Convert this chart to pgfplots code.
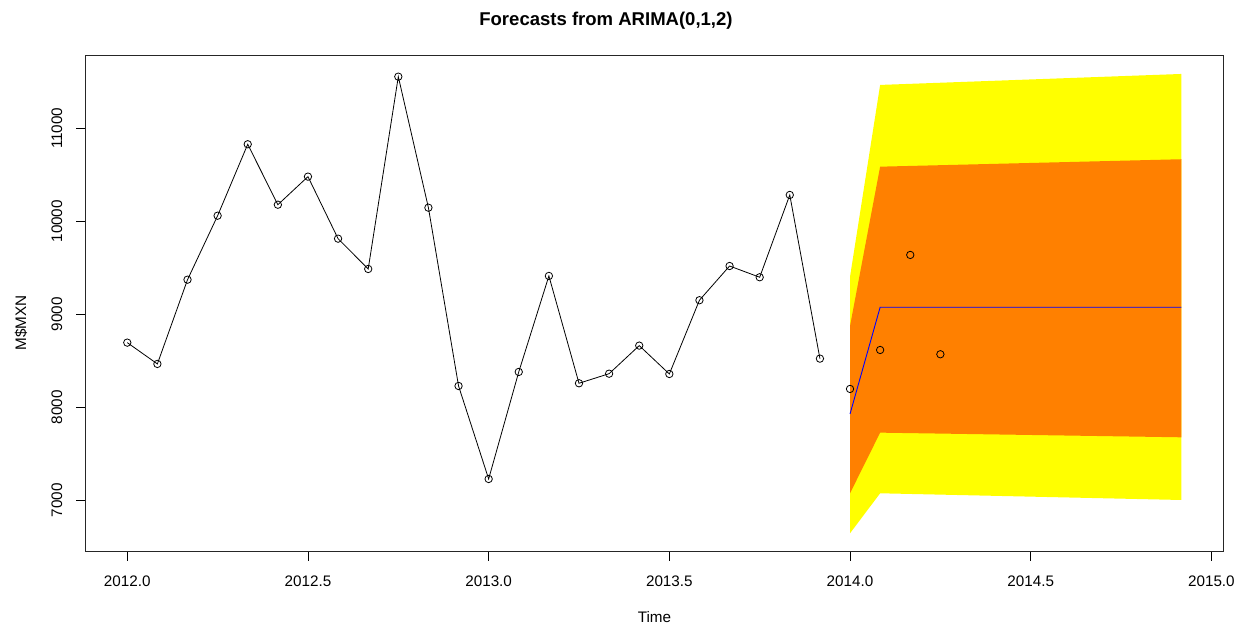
\documentclass[border=0pt]{standalone}
\usepackage{fontspec}
\setmainfont{Liberation Sans}
\usepackage{pgfplots}
\pgfplotsset{compat=1.18}
\definecolor{pi95}{RGB}{255,255,0}
\definecolor{pi80}{RGB}{255,128,0}
\newcommand{\lblfont}{\fontsize{15.3}{18}\selectfont}

\begin{document}
\begin{tikzpicture}[x=1bp,y=1bp]
\useasboundingbox (0,0) rectangle (1243,626);
\begin{axis}[
  at={(85bp,74.3bp)}, anchor=south west,
  scale only axis, width=1138.3bp, height=496.7bp,
  xmin=2011.883, xmax=2015.033, ymin=6447, ymax=11788,
  xtick={2012,2012.5,2013,2013.5,2014,2014.5,2015},
  xticklabels={2012.0,2012.5,2013.0,2013.5,2014.0,2014.5,2015.0},
  ytick={7000,8000,9000,10000,11000},
  yticklabels={7000,8000,9000,10000,11000},
  scaled x ticks=false, scaled y ticks=false,
  xtick pos=bottom, ytick pos=left,
  tick align=outside, major tick length=9bp,
  tick style={black, line width=0.8bp},
  axis line style={black!85, line width=0.9bp},
  tick label style={font=\lblfont},
  xticklabel style={anchor=base, yshift=-26bp},
  yticklabel style={rotate=90, anchor=base, yshift=14bp},
]
% 95% and 80% prediction intervals
\addplot[fill=pi95, draw=none] coordinates {
  (2014.0000,6645) (2014.0833,7075) (2014.9167,7003)
  (2014.9167,11584) (2014.0833,11466) (2014.0000,9404)} -- cycle;
\addplot[fill=pi80, draw=none] coordinates {
  (2014.0000,7075) (2014.0833,7727) (2014.9167,7677)
  (2014.9167,10667) (2014.0833,10587) (2014.0000,8874)} -- cycle;
% observed series
\addplot[black, line width=0.8bp, mark=o, mark size=3.7bp,
  mark options={line width=0.8bp}] coordinates {
  (2012.0000,8695) (2012.0833,8466) (2012.1667,9372) (2012.2500,10060)
  (2012.3333,10828) (2012.4167,10178) (2012.5000,10480) (2012.5833,9813)
  (2012.6667,9487) (2012.7500,11555) (2012.8333,10146) (2012.9167,8229)
  (2013.0000,7229) (2013.0833,8380) (2013.1667,9412) (2013.2500,8258)
  (2013.3333,8361) (2013.4167,8663) (2013.5000,8358) (2013.5833,9151)
  (2013.6667,9519) (2013.7500,9398) (2013.8333,10283) (2013.9167,8523)};
% point forecasts
\addplot[blue, line width=0.9bp] coordinates {
  (2014.0000,7928) (2014.0833,9075) (2014.1667,9075) (2014.2500,9075)
  (2014.3333,9075) (2014.4167,9075) (2014.5000,9075) (2014.5833,9075)
  (2014.6667,9075) (2014.7500,9075) (2014.8333,9075) (2014.9167,9075)};
% later observations
\addplot[only marks, black, mark=o, mark size=3.7bp,
  mark options={line width=0.8bp}] coordinates {
  (2014.0000,8197) (2014.0833,8616) (2014.1667,9638) (2014.2500,8570)};
\end{axis}
\node[anchor=base, font=\bfseries\fontsize{18.6}{22}\selectfont] at (606,600) {Forecasts from ARIMA(0,1,2)};
\node[anchor=base, font=\lblfont] at (654.5,3) {Time};
\node[anchor=base, rotate=90, font=\lblfont] at (26,303) {M\$MXN};
\end{tikzpicture}
\end{document}
